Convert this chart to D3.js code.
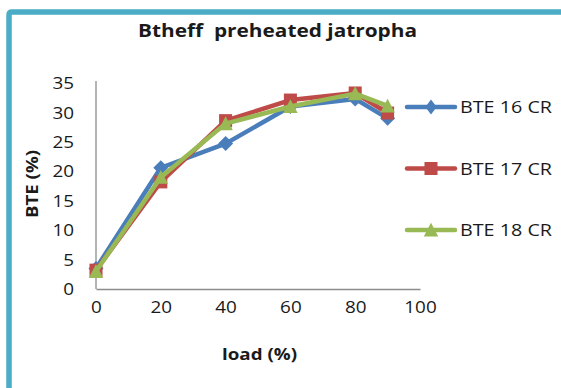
<!DOCTYPE html>
<html>
<head>
<meta charset="utf-8">
<script src="https://cdn.jsdelivr.net/npm/d3@7"></script>
<style>
  html, body { margin: 0; padding: 0; background: #ffffff; }
  svg { display: block; }
  text { font-family: "Open Sans", "Liberation Sans", sans-serif; fill: #1a1a1a; }
</style>
</head>
<body>
<svg id="chart" width="561" height="388"></svg>
<script>
// Brake thermal efficiency against load for three compression ratios
const loads = [0, 20, 40, 60, 80, 90];
const bte16 = [3.5, 20.6, 24.7, 31.0, 32.3, 29.0];
const bte17 = [3.2, 18.2, 28.6, 32.1, 33.3, 29.9];
const bte18 = [3.0, 19.0, 28.1, 31.0, 33.2, 31.1];
const seriesNames = ["BTE 16 CR", "BTE 17 CR", "BTE 18 CR"];
const seriesColors = ["#4a7ebb", "#be4b48", "#98b954"];
const xTicks = [0, 20, 40, 60, 80, 100];
const yTicks = [0, 5, 10, 15, 20, 25, 30, 35];

const svg = d3.select("#chart");
const stretch = 1.18;

// frame: thick teal rule along the top and the left edge
svg.append("path")
  .attr("d", "M9,388 L9,15 Q9,12 12,12 L561,12")
  .attr("fill", "none")
  .attr("stroke", "#4bacc6")
  .attr("stroke-width", 5.5);

const x = d3.scaleLinear().domain([0, 100]).range([96, 420]);
const y = d3.scaleLinear().domain([0, 35]).range([289, 83]);

// axes
const gx = svg.append("g")
  .attr("transform", `translate(0,${y(0)})`)
  .call(d3.axisBottom(x).tickValues(xTicks).tickSize(0).tickSizeOuter(0).tickPadding(0));
const gy = svg.append("g")
  .attr("transform", `translate(${x(0)},0)`)
  .call(d3.axisLeft(y).tickValues(yTicks).tickSize(0).tickSizeOuter(0).tickPadding(0));

[gx, gy].forEach(g => {
  g.select(".domain").attr("stroke", "#8c8c8c").attr("stroke-width", 1.3);
  g.selectAll("text")
    .attr("font-family", "Open Sans, Liberation Sans, sans-serif")
    .attr("font-size", 16)
    .attr("fill", "#1a1a1a");
});
gy.select(".domain").attr("d", `M0,${y(35) - 2}V${y(0)}`);
gx.selectAll("text")
  .attr("x", 0).attr("y", 0).attr("dy", null)
  .attr("transform", `translate(0,23.5) scale(${stretch},1)`);
gy.selectAll("text")
  .attr("x", 0).attr("dy", null)
  .attr("transform", `translate(-22,5.6) scale(${stretch},1)`);

// symbols
const diamond = { draw(ctx, size) { const r = Math.sqrt(size) / 2; ctx.moveTo(0, -r); ctx.lineTo(r, 0); ctx.lineTo(0, r); ctx.lineTo(-r, 0); ctx.closePath(); } };
const square = { draw(ctx, size) { const r = Math.sqrt(size) / 2; ctx.rect(-r, -r, 2 * r, 2 * r); } };
const triangle = { draw(ctx, size) { const r = Math.sqrt(size) / 2; ctx.moveTo(0, -r * 1.05); ctx.lineTo(r * 1.05, r * 0.95); ctx.lineTo(-r * 1.05, r * 0.95); ctx.closePath(); } };
const symbolTypes = [diamond, square, triangle];
const symbolSizes = [225, 170, 190];

const allSeries = [bte16, bte17, bte18];
const line = d3.line().x(d => x(d[0])).y(d => y(d[1]));

allSeries.forEach((vals, i) => {
  const pts = loads.map((l, k) => [l, vals[k]]);
  const g = svg.append("g");
  g.append("path")
    .attr("d", line(pts))
    .attr("fill", "none")
    .attr("stroke", seriesColors[i])
    .attr("stroke-width", 4.5)
    .attr("stroke-linejoin", "round");
  g.selectAll("path.mk").data(pts).join("path")
    .attr("class", "mk")
    .attr("transform", d => `translate(${x(d[0])},${y(d[1])})`)
    .attr("d", d3.symbol().type(symbolTypes[i]).size(symbolSizes[i]))
    .attr("fill", seriesColors[i]);
});

// legend
const legendY = [107, 168.5, 230];
seriesNames.forEach((name, i) => {
  const g = svg.append("g").attr("transform", `translate(0,${legendY[i]})`);
  g.append("line")
    .attr("x1", 407).attr("x2", 455).attr("y1", 0).attr("y2", 0)
    .attr("stroke", seriesColors[i]).attr("stroke-width", 4.5).attr("stroke-linecap", "round");
  g.append("path")
    .attr("transform", i === 0 ? "translate(431,0) scale(0.75,1)" : "translate(431,0)")
    .attr("d", d3.symbol().type(symbolTypes[i]).size(symbolSizes[i]))
    .attr("fill", seriesColors[i]);
  g.append("text")
    .attr("x", 460).attr("y", 6)
    .attr("font-size", 16)
    .attr("textLength", 92).attr("lengthAdjust", "spacingAndGlyphs")
    .text(name);
});

// titles
svg.append("text")
  .attr("x", 138).attr("y", 37)
  .attr("font-size", 18.5).attr("font-weight", "bold")
  .style("white-space", "pre")
  .attr("textLength", 279).attr("lengthAdjust", "spacingAndGlyphs")
  .text("Btheff  preheated jatropha");

svg.append("text")
  .attr("x", 222).attr("y", 360)
  .attr("font-size", 16.5).attr("font-weight", "bold")
  .attr("textLength", 75).attr("lengthAdjust", "spacingAndGlyphs")
  .text("load (%)");

svg.append("text")
  .attr("transform", "translate(38,218) rotate(-90)")
  .attr("font-size", 16.5).attr("font-weight", "bold")
  .attr("textLength", 68).attr("lengthAdjust", "spacingAndGlyphs")
  .text("BTE (%)");
</script>
</body>
</html>
